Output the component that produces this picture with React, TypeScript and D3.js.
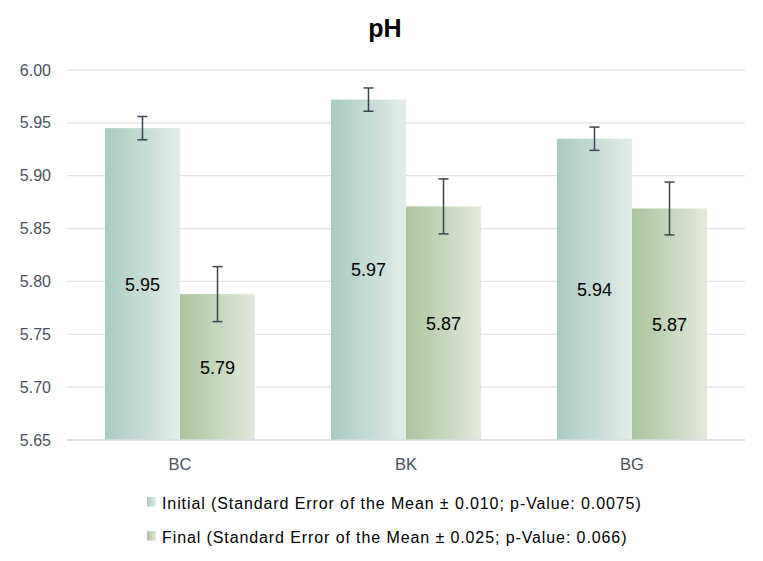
import React from "react";
import * as d3 from "d3";

const categories = ["BC", "BK", "BG"];
const initialValues = [5.945, 5.972, 5.935];
const finalValues = [5.788, 5.871, 5.869];
const initialLabels = ["5.95", "5.97", "5.94"];
const finalLabels = ["5.79", "5.87", "5.87"];
const initialErr = [0.011, 0.011, 0.011];
const finalErr = [0.026, 0.026, 0.025];
const yTicks = [5.65, 5.7, 5.75, 5.8, 5.85, 5.9, 5.95, 6.0];
const legendLabels = [
  "Initial (Standard Error of the Mean \u00b1 0.010; p-Value: 0.0075)",
  "Final (Standard Error of the Mean \u00b1 0.025; p-Value: 0.066)",
];

export default function App() {
  const W = 763, H = 561;
  const left = 67, right = 745, top = 70, bottom = 440;
  const y = d3.scaleLinear().domain([5.65, 6.0]).range([bottom, top]);
  const x0 = d3.scaleBand().domain(categories).range([left, right]).paddingInner(0.336).paddingOuter(0.168);
  const x1 = d3.scaleBand().domain(["i", "f"]).range([0, x0.bandwidth()]);
  const font = "'Liberation Sans', Arial, sans-serif";
  const series = [
    { key: "i", vals: initialValues, labs: initialLabels, err: initialErr, grad: "gI" },
    { key: "f", vals: finalValues, labs: finalLabels, err: finalErr, grad: "gF" },
  ];
  return (
    <svg width={W} height={H} style={{ position: "absolute", left: 0, top: 0 }}>
      <defs>
        <linearGradient id="gI" x1="0" x2="1" y1="0" y2="0">
          <stop offset="0" stopColor="#a8cbc2" />
          <stop offset="1" stopColor="#e2ece9" />
        </linearGradient>
        <linearGradient id="gF" x1="0" x2="1" y1="0" y2="0">
          <stop offset="0" stopColor="#a9c49b" />
          <stop offset="1" stopColor="#e3e9dd" />
        </linearGradient>
      </defs>
      <rect width={W} height={H} fill="#fff" />
      <text x={385} y={37} textAnchor="middle" fontFamily={font} fontWeight="bold" fontSize={25} fill="#000">pH</text>
      {yTicks.map((t) => (
        <g key={t}>
          <line x1={left} x2={right} y1={y(t)} y2={y(t)} stroke="#e3e3ea" strokeWidth={1.3} />
          <text x={51} y={y(t) + 5.5} textAnchor="end" fontFamily={font} fontSize={16} fill="#4a5060">{t.toFixed(2)}</text>
        </g>
      ))}
      {categories.map((c, ci) => (
        <g key={c}>
          {series.map((s) => {
            const bx = (x0(c) as number) + (x1(s.key) as number);
            const bw = x1.bandwidth();
            const v = s.vals[ci];
            const cx = bx + bw / 2;
            return (
              <g key={s.key}>
                <rect x={bx} y={y(v)} width={bw} height={bottom - y(v)} fill={`url(#${s.grad})`} />
                <text x={cx} y={(y(v) + bottom) / 2 + 6.5} textAnchor="middle" fontFamily={font} fontSize={18} fill="#000">{s.labs[ci]}</text>
                <line x1={cx} x2={cx} y1={y(v + s.err[ci])} y2={y(v - s.err[ci])} stroke="#3b4455" strokeWidth={1.5} />
                <line x1={cx - 5} x2={cx + 5} y1={y(v + s.err[ci])} y2={y(v + s.err[ci])} stroke="#3b4455" strokeWidth={1.5} />
                <line x1={cx - 5} x2={cx + 5} y1={y(v - s.err[ci])} y2={y(v - s.err[ci])} stroke="#3b4455" strokeWidth={1.5} />
              </g>
            );
          })}
          <text x={(x0(c) as number) + x0.bandwidth() / 2} y={470} textAnchor="middle" fontFamily={font} fontSize={16.5} fill="#4a5060">{c}</text>
        </g>
      ))}
      <line x1={left} x2={right} y1={bottom} y2={bottom} stroke="#d9dde3" strokeWidth={1.3} />
      {legendLabels.map((l, i) => (
        <g key={l}>
          <rect x={147} y={497 + i * 34} width={9} height={9.5} fill={i === 0 ? "url(#gI)" : "url(#gF)"} />
          <text x={162} y={508.5 + i * 34} fontFamily={font} fontSize={16} letterSpacing={0.9} fill="#000">{l}</text>
        </g>
      ))}
    </svg>
  );
}
